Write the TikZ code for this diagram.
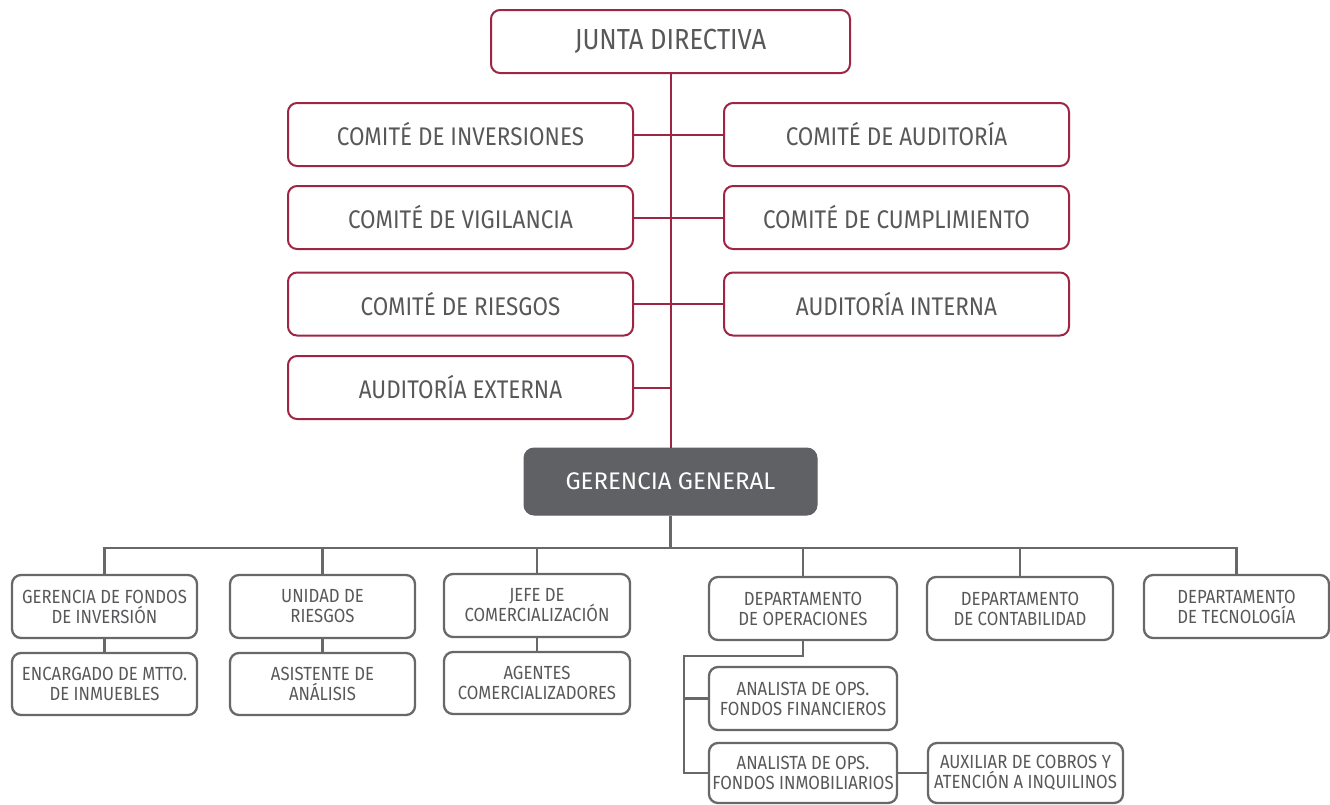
\documentclass[tikz,border=0pt]{standalone}
\usepackage{fontspec}
\setmainfont{Fira Sans}[FakeStretch=0.88]
\newfontfamily\ggfont{Fira Sans}
\definecolor{crim}{RGB}{158,38,68}
\definecolor{gline}{RGB}{104,104,106}
\definecolor{txt}{RGB}{88,88,90}
\definecolor{ggfill}{RGB}{96,97,100}
\tikzset{
  topbox/.style={draw=crim, line width=2pt, rounded corners=9pt, fill=white, text=txt,
    inner sep=0pt, font=\fontsize{25.5}{27}\selectfont, align=center, minimum height=63pt},
  combox/.style={topbox, minimum width=345pt},
  lowbox/.style={draw=gline, line width=2.3pt, rounded corners=9pt, fill=white, text=txt,
    inner sep=0pt, font=\fontsize{19}{20}\selectfont, align=center, minimum height=63pt},
  ggbox/.style={draw=ggfill, fill=ggfill, line width=1pt, rounded corners=10pt, text=white,
    inner sep=0pt, font=\ggfont\fontsize{24}{26}\selectfont, minimum width=293pt, minimum height=67pt},
  redline/.style={draw=crim, line width=2pt},
  greyline/.style={draw=gline, line width=2.3pt},
}
\begin{document}
\begin{tikzpicture}[x=1pt,y=-1pt]
\useasboundingbox (0,0) rectangle (1330,804);
% top
\node[topbox, minimum width=359pt, font=\fontsize{29}{31}\selectfont] (junta) at (670.5,41.5) {JUNTA DIRECTIVA};
\node[combox] (c1l) at (460.5,134.5) {COMITÉ DE INVERSIONES};
\node[combox] (c1r) at (896.5,134.5) {COMITÉ DE AUDITORÍA};
\node[combox] (c2l) at (460.5,217.5) {COMITÉ DE VIGILANCIA};
\node[combox] (c2r) at (896.5,217.5) {COMITÉ DE CUMPLIMIENTO};
\node[combox] (c3l) at (460.5,304) {COMITÉ DE RIESGOS};
\node[combox] (c3r) at (896.5,304) {AUDITORÍA INTERNA};
\node[combox] (c4l) at (460.5,387.5) {AUDITORÍA EXTERNA};
\node[ggbox] (gg) at (670.5,481.5) {GERENCIA GENERAL};
% red connectors
\draw[redline] (junta.south) -- (gg.north);
\draw[redline] (c1l.east) -- (c1r.west);
\draw[redline] (c2l.east) -- (c2r.west);
\draw[redline] (c3l.east) -- (c3r.west);
\draw[redline] (c4l.east) -- (c4l.east -| junta.south);
% lower level
\node[lowbox, minimum width=185pt] (gf) at (104.5,606.5) {GERENCIA DE FONDOS\\DE INVERSIÓN};
\node[lowbox, minimum width=185pt, minimum height=62pt] (enc) at (104.5,684) {ENCARGADO DE MTTO.\\DE INMUEBLES};
\node[lowbox, minimum width=185pt] (ur) at (322.5,606.5) {UNIDAD DE\\RIESGOS};
\node[lowbox, minimum width=185pt, minimum height=62pt] (asis) at (322.5,684) {ASISTENTE DE\\ANÁLISIS};
\node[lowbox, minimum width=186pt] (jefe) at (537,605.5) {JEFE DE\\COMERCIALIZACIÓN};
\node[lowbox, minimum width=186pt, minimum height=62pt] (agen) at (537,683) {AGENTES\\COMERCIALIZADORES};
\node[lowbox, minimum width=188pt] (dops) at (803,608.5) {DEPARTAMENTO\\DE OPERACIONES};
\node[lowbox, minimum width=188pt] (aff) at (803,698.5) {ANALISTA DE OPS.\\FONDOS FINANCIEROS};
\node[lowbox, minimum width=188pt, minimum height=60pt] (afi) at (803,773) {ANALISTA DE OPS.\\FONDOS INMOBILIARIOS};
\node[lowbox, minimum width=195pt, minimum height=60pt] (aux) at (1025.5,773) {AUXILIAR DE COBROS Y\\ATENCIÓN A INQUILINOS};
\node[lowbox, minimum width=186pt] (cont) at (1020,608.5) {DEPARTAMENTO\\DE CONTABILIDAD};
\node[lowbox, minimum width=185pt] (tec) at (1236.5,606.5) {DEPARTAMENTO\\DE TECNOLOGÍA};
% grey connectors
\coordinate (bus) at (670.5,548);
\draw[greyline] (gg.south) -- (bus);
\draw[greyline] (gf.north) |- (bus) -| (tec.north);
\draw[greyline] (ur.north) -- (ur.north |- bus);
\draw[greyline] (jefe.north) -- (jefe.north |- bus);
\draw[greyline] (dops.north) -- (dops.north |- bus);
\draw[greyline] (cont.north) -- (cont.north |- bus);
\draw[greyline] (gf.south) -- (enc.north);
\draw[greyline] (ur.south) -- (asis.north);
\draw[greyline] (jefe.south) -- (agen.north);
\coordinate (opk) at (684,656);
\draw[greyline] (dops.south) |- (opk) -- (opk |- afi.west) -- (afi.west);
\draw[greyline] (opk |- aff.west) -- (aff.west);
\draw[greyline] (afi.east) -- (aux.west);
\end{tikzpicture}
\end{document}
